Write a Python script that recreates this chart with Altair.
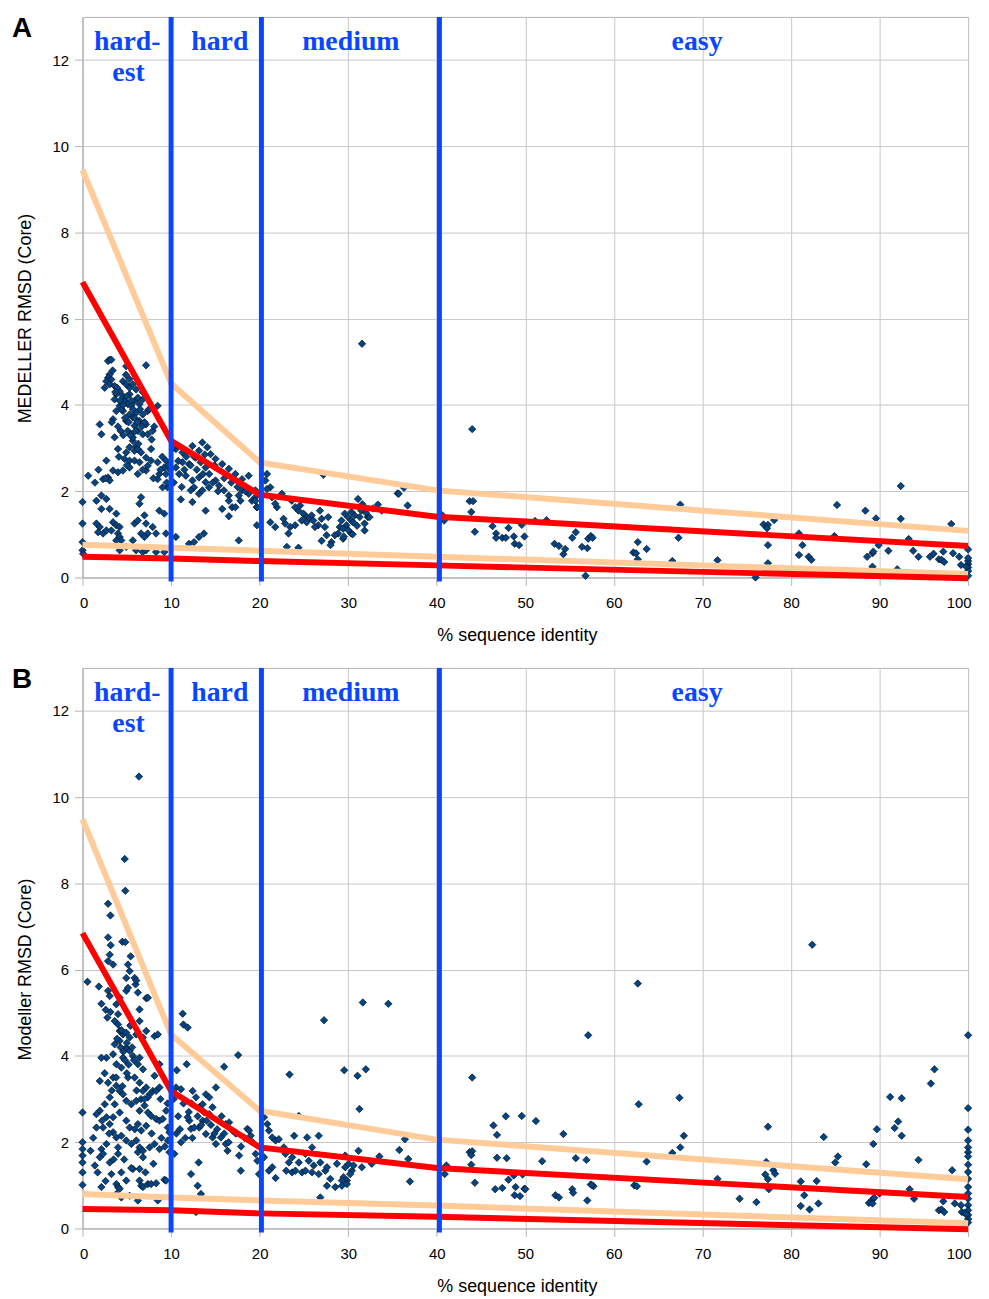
import altair as alt
import pandas as pd

# ---------------- data ----------------
X_TICKS = [0, 10, 20, 30, 40, 50, 60, 70, 80, 90, 100]
Y_TICKS = [0, 2, 4, 6, 8, 10, 12]
BOUNDS = [10, 20.2, 40.3]

band_text = ["hard-", "est", "hard", "medium", "easy"]
band_x = [5.05, 5.2, 15.5, 30.3, 69.4]
band_y = [12.23, 11.52, 12.23, 12.23, 12.23]

line_x = [0, 10, 20, 40, 100]
a_peach_hi = [9.45, 4.50, 2.67, 2.02, 1.08]
a_red_hi = [6.85, 3.17, 1.92, 1.41, 0.73]
a_peach_lo = [0.76, 0.69, 0.62, 0.48, 0.08]
a_red_lo = [0.48, 0.44, 0.38, 0.28, -0.02]
b_peach_hi = [9.49, 4.50, 2.73, 2.06, 1.14]
b_red_hi = [6.85, 3.19, 1.88, 1.40, 0.73]
b_peach_lo = [0.80, 0.72, 0.65, 0.53, 0.12]
b_red_lo = [0.45, 0.42, 0.35, 0.27, -0.02]

a_hardest = [(3.06,5.05),(2.88,5.02),(3.25,5.05),(7.17,4.92),(4.93,4.90),(3.06,4.71),(2.88,4.63),(2.69,4.55),(3.25,4.59),(3.06,4.48),(2.50,4.40),(3.62,4.44),(4.56,4.55),(4.93,4.48),(4.19,4.32),(3.81,4.25),(3.62,4.13),(4.56,4.21),(5.31,4.25),(6.05,4.36),(5.68,4.48),(5.31,4.40),(4.75,4.09),(5.12,4.02),(5.49,3.98),(5.87,4.09),(6.43,4.02),(6.80,4.13),(6.24,4.17),(4.19,3.98),(3.81,3.86),(4.56,3.86),(5.31,3.78),(6.05,3.82),(6.80,3.78),(7.36,3.86),(8.48,3.98),(3.44,3.67),(4.93,3.63),(5.68,3.71),(6.43,3.63),(7.17,3.55),(5.87,3.52),(6.24,3.40),(6.80,3.32),(7.36,3.32),(7.92,3.40),(5.49,3.32),(5.68,3.17),(6.05,3.05),(5.87,2.94),(6.24,2.98),(6.61,2.90),(5.31,3.02),(4.00,2.98),(4.93,2.90),(4.75,2.75),(5.31,2.71),(5.87,2.71),(6.43,2.67),(7.17,2.78),(7.74,2.98),(5.68,3.25),(3.62,3.25),(2.13,3.32),(1.94,3.55),(2.69,2.71),(3.44,2.48),(4.00,2.44),(2.32,2.28),(2.88,2.32),(3.06,2.25),(4.56,2.48),(5.31,2.55),(6.24,2.40),(7.17,2.48),(7.36,2.59),(7.74,2.71),(8.48,2.67),(9.42,2.71),(8.67,2.40),(8.48,2.28),(9.23,2.55),(9.42,2.40),(9.60,2.09),(9.04,2.09),(0.64,2.36),
    (4.2,4.1),(4.4,3.9),(4.8,3.7),(5.0,4.2),(5.2,3.6),(5.5,4.1),(5.7,3.9),(5.9,3.7),(6.2,3.6),(6.5,3.9),(4.0,3.5),(4.3,3.4),(4.6,3.3),(5.1,3.4),(5.4,3.3),(6.0,3.4),(6.3,3.1),(6.7,3.5),(7.0,3.6),(3.9,4.4),(4.6,4.0),(5.3,4.6),(4.9,4.7),(3.4,4.8),(3.7,4.3),(6.8,4.3),(7.5,3.9),(7.8,3.2),(8.1,3.5),(3.3,3.6),(4.1,2.8),(5.0,2.6),(6.8,2.5),(8.0,2.3),(8.8,2.5),(9.0,2.8),(9.7,2.6),(9.5,2.2),(9.9,2.5),(2.6,2.3),(1.8,2.5),(1.4,2.2),
    (0.0,1.75),(0.0,1.25),(0.0,0.82),(0.0,0.63),(0.07,0.55),(1.57,1.78),(2.13,1.90),(2.69,1.82),(2.13,1.59),(3.06,1.59),(3.81,1.48),(1.57,1.25),(1.94,1.17),(1.76,1.05),(2.32,1.02),(2.69,1.09),(3.25,1.09),(3.44,1.28),(3.81,1.21),(4.19,1.17),(4.00,1.02),(4.19,0.94),(4.37,0.86),(3.81,0.86),(4.19,0.63),(4.93,0.71),(5.68,0.86),(5.87,1.25),(6.24,1.32),(6.61,1.86),(6.43,1.71),(6.99,1.44),(7.17,1.25),(7.36,1.02),(7.92,1.17),(8.30,1.02),(6.61,1.02),(6.99,0.94),(6.05,0.63),(6.80,0.59),(8.30,0.59),(9.23,0.59),(8.67,1.55),(9.23,1.48),(9.42,1.02),(7.17,0.63)]

a_hard = [(10.54,2.98),(11.29,2.90),(12.41,3.05),(13.53,3.13),(14.09,3.02),(14.46,2.86),(15.02,2.75),(15.77,2.63),(16.52,2.52),(17.26,2.40),(18.01,2.28),(18.76,2.36),(13.15,2.94),(12.78,2.78),(13.34,2.67),(13.90,2.55),(12.03,2.63),(11.29,2.67),(10.54,2.55),(10.91,2.40),(11.66,2.36),(12.41,2.25),(13.15,2.32),(13.90,2.21),(14.28,2.09),(15.02,2.25),(15.40,2.13),(15.96,2.02),(16.52,1.90),(12.59,2.09),(12.22,2.02),(13.15,1.94),(13.53,2.02),(18.01,2.02),(17.64,1.90),(18.76,1.94),(19.51,1.86),(11.10,1.81),(12.41,1.75),(13.90,1.55),(15.77,1.59),(16.52,1.78),(16.89,1.63),(17.26,1.63),(17.83,1.78),(16.52,1.42),(17.64,0.86),(19.69,1.21),(19.13,1.78),(19.69,1.63),(10.54,0.94),(12.03,0.78),(12.59,0.82),(13.15,0.94),(13.71,1.02),
    (10.8,2.7),(11.5,2.5),(12.2,2.6),(12.9,2.5),(13.6,2.4),(14.3,2.4),(14.7,2.2),(15.3,2.0),(16.0,2.3),(16.8,2.2),(17.5,2.1),(18.4,2.0),(11.7,2.8),(12.6,2.8),(13.8,2.85),(10.3,2.2),(11.2,2.1),(14.9,2.6),(10.2,3.0),(19.52,2.02),(19.52,1.78),(19.71,1.63)]

a_medium = [(31.56,5.42),(35.59,1.95),(36.71,1.67),(31.11,1.82),(33.35,1.69),(32.22,1.40),(31.85,1.09),(30.36,1.02),(29.42,0.90),(28.86,1.02),(28.49,0.98),(27.56,0.98),(28.12,0.82),(27.37,1.17),(26.81,1.55),(27.00,1.36),(25.87,1.44),(25.50,1.36),(25.13,1.44),(24.75,1.32),(24.01,1.21),(23.45,1.17),(22.88,1.25),(22.70,1.36),(23.26,1.02),(24.38,1.55),(24.01,1.63),(21.95,1.63),(21.76,1.71),(22.51,1.94),(21.39,1.86),(21.20,2.09),(20.83,2.40),(20.64,2.25),(20.83,2.05),(21.20,1.28),(21.76,1.17),(23.07,0.71),(24.38,0.69),(29.61,1.48),(29.98,1.40),(30.36,1.32),(30.55,1.28),(29.80,1.21),(29.24,1.32),(29.05,1.17),(29.42,1.13),(30.73,1.44),(31.48,1.55),(31.85,1.25),(32.41,1.40),(30.36,1.52),(27.74,1.40),(26.62,1.21),(26.06,1.32),(25.31,1.28),(26.25,1.17),(23.63,1.78),(24.57,1.67),(24.94,1.48),(30.0,1.1),(30.5,1.0),(31.0,1.2),(31.3,1.4),(32.0,1.5),(29.5,0.95),(31.6,1.7),(32.8,1.6),(33.8,1.55),(28.0,0.75),(27.0,0.85),(35.7,1.94),(36.3,2.08),(27.2,2.38)]

a_easy = [(40.64,1.44),(40.83,1.32),(44.0,3.44),(43.7,1.77),(44.1,1.77),(43.9,1.52),(44.3,1.06),(46.3,1.19),(46.7,1.02),(46.7,0.92),(47.4,0.92),(47.8,0.92),(48.1,1.15),(48.7,0.95),(48.8,0.78),(49.3,0.75),(49.6,1.22),(49.9,0.95),(51.1,1.31),(52.4,1.33),(53.3,0.78),(53.8,0.73),(54.3,0.54),(54.5,0.66),(55.3,0.92),(55.7,1.05),(56.4,0.71),(57.0,0.68),(56.8,0.04),(57.1,0.90),(57.4,0.96),(57.6,0.92),(62.2,0.58),(62.5,0.56),(62.7,0.82),(63.7,0.66),(62.7,0.42),(66.6,0.38),(67.5,1.69),(67.3,0.92),(71.7,0.40),(76.0,0.0),(76.9,1.23),(77.4,1.22),(77.3,1.14),(77.4,0.75),(77.4,0.33),(78.1,1.33),(80.9,1.02),(81.3,0.75),(80.9,0.52),(82.0,0.48),(82.3,0.41),(84.9,0.96),(85.2,1.68),(88.4,1.55),(88.6,0.48),(89.2,0.56),(89.3,0.60),(89.2,0.25),(89.6,1.37),(89.9,0.75),(91.0,0.62),(92.0,0.19),(92.4,2.12),(92.4,1.36),(93.3,0.89),(93.8,0.62),(94.4,0.48),(95.7,0.48),(96.1,0.55),(96.7,0.42),(97.0,0.41),(97.3,0.36),(97.2,0.60),(98.1,1.24),(98.3,0.56),(99.0,0.48),(99.2,0.29),(100,0.65),(100,0.31),(100,0.23),(100,0.15),(100,0.04),(100,0.38),(100,0.45),(99.8,0.25)]

b_hardest = [(6.37,10.48),(4.76,8.57),(4.83,7.83),(2.88,7.53),(3.15,7.26),(2.88,6.75),(4.49,6.65),(4.83,6.64),(3.18,6.57),(3.07,6.35),(2.88,6.20),(3.45,6.12),(0.56,5.72),(1.84,5.61),(2.13,5.21),(2.62,5.07),(3.15,5.02),(2.81,4.89),(2.88,5.51),(3.07,5.39),(3.82,5.20),(4.19,5.35),(4.94,5.51),(5.13,5.58),(5.88,5.81),(5.99,5.66),(6.07,5.75),(5.43,6.31),(5.13,6.12),(4.94,5.81),(5.32,5.97),(6.25,5.47),(7.19,5.34),(7.38,5.35),(6.44,5.08),(6.44,4.81),(5.51,4.73),(6.07,4.50),(6.82,4.43),(7.19,4.58),(8.13,4.46),(8.50,4.50),(4.01,4.97),(3.63,4.81),(4.01,4.73),(4.19,4.58),(4.57,4.50),(4.94,4.54),(5.32,4.43),(4.19,4.35),(4.94,4.19),(5.32,4.12),(4.57,3.96),(5.69,4.00),(6.44,3.96),(6.82,3.69),(6.25,3.81),(3.63,4.27),(3.45,4.04),(2.70,3.96),(2.13,3.96),(3.82,3.81),(4.38,3.73),(5.13,3.50),(5.88,3.50),(6.44,3.38),(7.19,3.27),(6.82,3.19),(7.57,3.11),(7.94,3.19),(7.38,3.04),(8.31,3.19),(8.69,3.27),(8.13,3.54),(8.69,3.81),(1.95,3.42),(2.88,3.38),(3.45,3.50),(3.82,3.31),(4.19,3.19),(4.57,3.11),(4.94,2.96),(5.51,2.88),(6.07,2.96),(6.44,2.73),(7.00,2.85),(7.38,2.69),(7.75,2.61),(8.31,2.54),(8.69,2.50),(9.06,2.54),(9.44,2.73),(6.25,2.42),(6.63,2.27),(7.19,2.38),(5.32,2.34),(4.94,2.50),(4.19,2.69),(3.63,2.88),(3.07,3.04),(2.51,2.88),(1.95,2.73),(1.57,2.65),(2.70,2.58),(3.45,2.58),(3.07,2.42),(2.32,2.34),(1.57,2.34),(3.45,2.23),(3.82,2.11),(4.38,2.15),(4.94,2.04),(5.51,1.96),(6.07,2.04),(6.44,1.88),(6.82,1.65),(6.25,1.77),(6.82,1.80),(7.57,1.88),(8.13,1.96),(8.69,1.84),(9.63,2.34),(9.81,2.23),(9.63,2.04),(9.81,1.77),(0,2.69),(0,2.00),(0,1.84),(0,1.69),(0,1.53),(0,1.30),(0,1.01),(1.39,1.46),(2.13,1.84),(1.95,1.65),(2.32,1.73),(2.13,0.96),(2.70,1.96),(3.07,1.53),(3.26,1.26),(3.82,1.03),(4.01,0.96),(4.19,0.92),(4.01,1.88),(4.01,1.73),(4.38,1.30),(4.94,1.11),(5.69,1.38),(6.44,1.38),(6.44,1.11),(6.63,0.99),(6.82,0.96),(6.25,0.65),(7.38,1.03),(7.75,1.03),(8.31,1.05),(8.50,0.65),(9.25,1.13),(9.44,1.11),(4.38,0.72),(3.82,0.80),(5.32,0.76),
    (4.3,4.2),(4.6,4.1),(5.0,4.3),(4.8,3.9),(5.2,3.8),(5.6,4.2),(3.9,4.4),(4.4,4.6),(5.4,4.7),(3.8,3.5),(4.5,3.3),(5.0,3.6),(5.8,3.9),(6.1,3.2),(6.6,3.0),(7.0,3.0),(3.3,3.2),(2.5,3.6),(2.2,2.5),(3.0,2.2),(1.2,2.1),(0.9,1.8),(1.7,1.3),(2.6,1.1),(3.5,1.6),(4.7,1.6),(5.5,1.4),(5.9,2.3),(7.8,2.2),(8.9,2.1),(9.3,1.9),(8.0,1.5),(7.1,1.3),(9.6,2.9),(8.8,3.0)]

b_hard = [(10.37,1.73),(11.31,4.98),(11.39,4.73),(11.87,4.66),(10.64,3.67),(11.76,3.81),(10.56,3.27),(11.12,3.23),(12.43,3.19),(12.81,3.04),(13.18,2.81),(13.56,2.88),(13.93,3.11),(14.31,3.04),(14.68,2.81),(15.06,3.27),(15.99,3.75),(17.57,4.02),(14.31,2.65),(13.56,2.50),(13.18,2.34),(13.93,2.19),(14.68,2.11),(15.06,1.96),(15.62,2.11),(16.18,2.42),(16.55,2.46),(16.93,2.27),(16.18,1.96),(16.37,1.80),(17.68,1.69),(17.87,1.34),(18.61,2.31),(18.80,2.27),(18.99,2.15),(19.55,1.73),(19.74,1.57),(12.25,2.31),(12.62,2.34),(12.06,2.50),(11.12,2.00),(12.25,1.26),(13.11,1.53),(13.00,0.99),(13.37,0.80),(12.81,0.38),(11.87,2.58),(19.93,1.26),
    (10.8,2.6),(11.4,2.9),(12.0,2.7),(12.3,2.9),(13.0,2.6),(13.4,2.4),(14.0,2.5),(14.5,2.4),(15.2,2.3),(15.7,2.6),(16.5,2.0),(17.3,2.2),(11.0,2.3),(11.6,2.1),(12.4,2.1),(13.7,2.7),(14.9,2.2),(16.0,2.2),(17.9,1.9),(18.3,2.1),(19.2,2.0),(10.3,3.0),(10.6,2.2)]

b_medium = [(20.49,2.58),(20.86,2.42),(21.05,2.27),(21.42,2.11),(21.80,2.04),(22.17,2.07),(22.73,1.88),(22.92,1.73),(23.30,1.53),(23.67,1.65),(23.90,2.15),(24.42,2.61),(25.36,2.11),(26.67,2.15),(25.92,1.88),(25.17,1.73),(24.42,1.53),(24.79,1.30),(25.54,1.57),(26.10,1.46),(26.85,1.53),(27.42,1.34),(27.98,1.15),(28.54,0.96),(27.60,0.99),(26.85,0.72),(27.27,4.83),(23.37,3.57),(29.66,1.42),(30.04,1.50),(30.41,1.34),(29.48,1.19),(29.85,1.11),(30.22,1.26),(30.60,1.46),(29.66,1.69),(31.16,1.80),(31.65,5.24),(31.99,3.69),(31.05,3.54),(31.27,2.77),(29.55,3.67),(34.53,5.21),(36.40,2.07),(36.78,1.61),(35.77,1.82),(36.97,1.09),(33.52,1.67),(32.66,1.50),(31.54,1.42),(20.49,1.65),(21.05,1.34),(21.80,1.17),(21.42,1.42),(23.00,1.34),(23.67,1.30),(24.04,1.34),(25.17,1.34),(25.92,1.30),(26.67,1.26),(27.60,1.42),(28.73,1.50),(29.29,1.11),(29.29,0.99),(29.85,1.03)]

b_easy = [(40.90,1.26),(41.09,1.46),(82.4,6.58),(62.7,5.68),(57.1,4.48),(100,4.48),(44.0,3.50),(96.2,3.69),(95.8,3.36),(67.4,3.03),(62.8,2.88),(91.2,3.05),(92.5,3.02),(100,2.79),(47.8,2.60),(49.6,2.61),(51.2,2.49),(46.4,2.39),(46.8,2.17),(54.3,2.19),(67.9,2.15),(83.7,2.12),(89.7,2.30),(92.1,2.48),(91.7,2.33),(92.5,2.15),(77.4,2.36),(89.3,1.96),(100,2.29),(100,2.04),(100,1.88),(100,1.77),(100,1.67),(100,1.48),(100,1.31),(100,1.15),(100,0.96),(100,0.81),(100,0.69),(100,0.54),(100,0.42),(100,0.31),(100,0.22),(100,0.14),(43.7,1.77),(44.0,1.79),(43.9,1.70),(43.9,1.48),(44.3,1.06),(46.8,1.64),(47.9,1.63),(46.6,0.91),(47.4,0.94),(48.1,1.13),(48.7,1.23),(48.9,0.96),(48.8,0.77),(49.4,0.75),(49.7,1.25),(49.9,0.92),(50.0,0.91),(51.9,1.56),(53.4,0.77),(53.8,0.72),(55.3,0.91),(55.4,0.83),(55.7,1.63),(56.9,1.59),(57.0,0.65),(57.4,1.02),(57.7,0.98),(57.5,1.01),(62.3,1.00),(62.6,0.98),(63.7,1.55),(66.6,1.75),(67.5,1.88),(71.7,1.15),(74.2,0.69),(76.1,0.61),(77.1,1.25),(77.4,1.14),(77.5,0.91),(78.0,1.35),(78.2,1.27),(77.2,1.54),(81.1,1.09),(81.1,0.52),(81.5,0.77),(82.1,0.44),(82.9,1.10),(83.1,0.58),(85.0,1.53),(85.3,1.67),(88.5,1.49),(88.8,0.59),(89.2,0.67),(89.2,0.58),(89.4,0.71),(90.0,0.81),(93.4,0.91),(93.9,0.69),(94.4,1.59),(96.7,0.42),(97.0,0.44),(97.3,0.38),(97.2,0.63),(98.2,1.35),(98.5,0.58),(99.2,0.54),(99.3,0.38),(99.6,0.36),(99.8,0.33)]

# ---------------- styling ----------------
W, H = 891, 564
BLUE = "#0a46ff"
RED = "#ff0000"
PEACH = "#ffcc99"
POINT = "#004586"


def panel(points, peach_hi, peach_lo, red_hi, red_lo, ytitle, letter, xpad):
    pts = pd.DataFrame(points, columns=["x", "y"])
    peach = pd.DataFrame({"x": line_x * 2, "y": peach_hi + peach_lo,
                          "s": ["hi"] * 5 + ["lo"] * 5})
    red = pd.DataFrame({"x": line_x * 2, "y": red_hi + red_lo,
                        "s": ["hi"] * 5 + ["lo"] * 5})
    rules = pd.DataFrame({"x": BOUNDS})
    labels = pd.DataFrame({"x": band_x, "y": band_y, "t": band_text})

    xs = alt.Scale(domain=[0, 100], nice=False, zero=False)
    ys = alt.Scale(domain=[0, 13], nice=False)
    xax = alt.Axis(values=X_TICKS, title="% sequence identity", labelPadding=10,
                   titlePadding=xpad, titleX=437, labelFlush=True,
                   labelFlushOffset=3)
    yax = alt.Axis(values=Y_TICKS, title=ytitle, labelPadding=6, titlePadding=18,
                   titleY=303)
    X = alt.X("x:Q", scale=xs, axis=xax)
    Y = alt.Y("y:Q", scale=ys, axis=yax)

    p = alt.Chart(pts).mark_point(shape="diamond", filled=True, color=POINT,
                                  stroke="#000000", strokeWidth=0.6, size=56,
                                  opacity=1).encode(x=X, y=Y)
    lp = alt.Chart(peach).mark_line(color=PEACH, strokeWidth=6).encode(
        x=X, y=Y, detail="s:N")
    lr = alt.Chart(red).mark_line(color=RED, strokeWidth=6).encode(
        x=X, y=Y, detail="s:N")
    rl = alt.Chart(rules).mark_rule(color=BLUE, strokeWidth=5).encode(
        x=X, y=alt.value(0), y2=alt.value(H + 4))
    tx = alt.Chart(labels).mark_text(font="Liberation Serif", fontWeight="bold",
                                     fontSize=28, color=BLUE, align="center",
                                     baseline="alphabetic").encode(
        x=X, y=Y, text="t:N")
    lt = alt.Chart(pd.DataFrame({"t": [letter]})).mark_text(
        font="Liberation Sans", fontWeight="bold", fontSize=28, color="#000000",
        align="left", baseline="alphabetic").encode(
        x=alt.value(-71), y=alt.value(20), text="t:N")
    return alt.layer(p, lp, lr, rl, tx, lt).properties(width=W, height=H)


chart_a = panel(a_hardest + a_hard + a_medium + a_easy, a_peach_hi, a_peach_lo,
                a_red_hi, a_red_lo, "MEDELLER RMSD (Core)", "A", 16)
chart_b = panel(b_hardest + b_hard + b_medium + b_easy, b_peach_hi, b_peach_lo,
                b_red_hi, b_red_lo, "Modeller RMSD (Core)", "B", 16)

chart = alt.vconcat(chart_a, chart_b, spacing=20).properties(
    padding={"left": 3, "top": 2, "right": 0, "bottom": -2}
).configure_view(stroke="#b3b3b3", strokeWidth=1).configure_axis(
    gridColor="#c8c8c8", gridOpacity=1, gridWidth=1,
    tickColor="#b3b3b3", tickSize=8, tickWidth=1,
    domainColor="#b3b3b3", domainWidth=1,
    labelFont="Liberation Sans", labelFontSize=15, labelColor="#000000",
    titleFont="Liberation Sans", titleFontSize=18, titleFontWeight="normal",
    titleColor="#000000"
)

chart.save("out.html", embed_options={"renderer": "svg", "actions": False})
